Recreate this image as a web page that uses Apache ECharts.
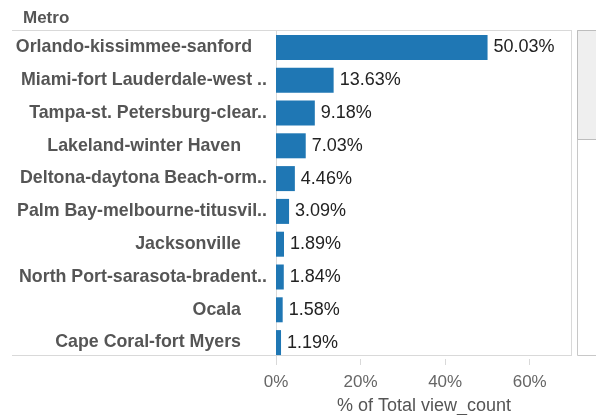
<!DOCTYPE html>
<html>
<head>
<meta charset="utf-8">
<script src="https://cdn.jsdelivr.net/npm/echarts@6/dist/echarts.min.js"></script>
<style>
  html, body { margin: 0; padding: 0; background: #fff; }
  #chart { width: 596px; height: 415px; }
</style>
</head>
<body>
<div id="chart"></div>
<script>
// data
var metros = [
  'Orlando-kissimmee-sanford',
  'Miami-fort Lauderdale-west ..',
  'Tampa-st. Petersburg-clear..',
  'Lakeland-winter Haven',
  'Deltona-daytona Beach-orm..',
  'Palm Bay-melbourne-titusvil..',
  'Jacksonville',
  'North Port-sarasota-bradent..',
  'Ocala',
  'Cape Coral-fort Myers'
]
var shares = [50.03, 13.63, 9.18, 7.03, 4.46, 3.09, 1.89, 1.84, 1.58, 1.19]
var xTicks = [0, 20, 40, 60]

var lineColor = '#d9d9d9'
var font = 'Liberation Sans'
var chart = echarts.init(document.getElementById('chart'), null, { renderer: 'canvas' })

var labelStyle = { fontFamily: font, fontSize: 17.8, fontWeight: 'bold', color: '#555' }

chart.setOption({
  animation: false,
  title: {
    text: 'Metro',
    left: 18,
    top: 5,
    textStyle: { fontFamily: font, fontSize: 17, fontWeight: 'bold', color: '#555' }
  },
  grid: { left: 276, right: 24, top: 31, bottom: 56, outerBoundsMode: 'none' },
  xAxis: {
    type: 'value',
    min: 0,
    max: 70,
    interval: 20,
    axisLine: { show: false },
    axisTick: { show: true, length: 6, lineStyle: { color: lineColor } },
    splitLine: { show: false },
    axisLabel: {
      margin: 15,
      fontFamily: font,
      fontSize: 17,
      color: '#666',
      showMaxLabel: false,
      formatter: function(v) {
        return xTicks.indexOf(v) >= 0 ? v + '%' : ''
      }
    },
    name: '% of Total view_count',
    nameLocation: 'middle',
    nameGap: 38,
    nameTextStyle: { fontFamily: font, fontSize: 18, color: '#555' }
  },
  yAxis: {
    type: 'category',
    data: metros,
    inverse: true,
    axisLine: { show: true, lineStyle: { color: lineColor } },
    axisTick: { show: false },
    axisLabel: {
      margin: 9,
      formatter: function(v) {
        if (v.indexOf('..') >= 0) return '{t|' + v + '}'
        if (v === metros[0]) return '{o|' + v + '}'
        return '{n|' + v + '}'
      },
      rich: {
        t: labelStyle,
        o: Object.assign({ padding: [0, 15, 0, 0] }, labelStyle),
        n: Object.assign({ padding: [0, 26, 0, 0] }, labelStyle)
      }
    }
  },
  series: [{
    type: 'bar',
    data: shares,
    barWidth: 25,
    itemStyle: { color: '#1f77b4' },
    label: {
      show: true,
      position: 'right',
      distance: 6,
      fontFamily: font,
      fontSize: 18,
      color: '#222',
      formatter: function(p) { return p.value.toFixed(2) + '%' }
    }
  }],
  graphic: [
    // pane borders
    { type: 'line', shape: { x1: 12, y1: 30.5, x2: 572, y2: 30.5 }, style: { stroke: lineColor, lineWidth: 1 } },
    { type: 'line', shape: { x1: 12, y1: 355.5, x2: 572, y2: 355.5 }, style: { stroke: lineColor, lineWidth: 1 } },
    { type: 'line', shape: { x1: 571.5, y1: 30, x2: 571.5, y2: 356 }, style: { stroke: lineColor, lineWidth: 1 } },
    // scrollbar
    { type: 'rect', shape: { x: 577.5, y: 30.5, width: 20, height: 325 }, style: { fill: '#fff', stroke: '#c8c8c8', lineWidth: 1 } },
    { type: 'rect', shape: { x: 577.5, y: 30.5, width: 20, height: 109 }, style: { fill: '#efefef', stroke: '#bdbdbd', lineWidth: 1 } }
  ]
})
</script>
</body>
</html>
